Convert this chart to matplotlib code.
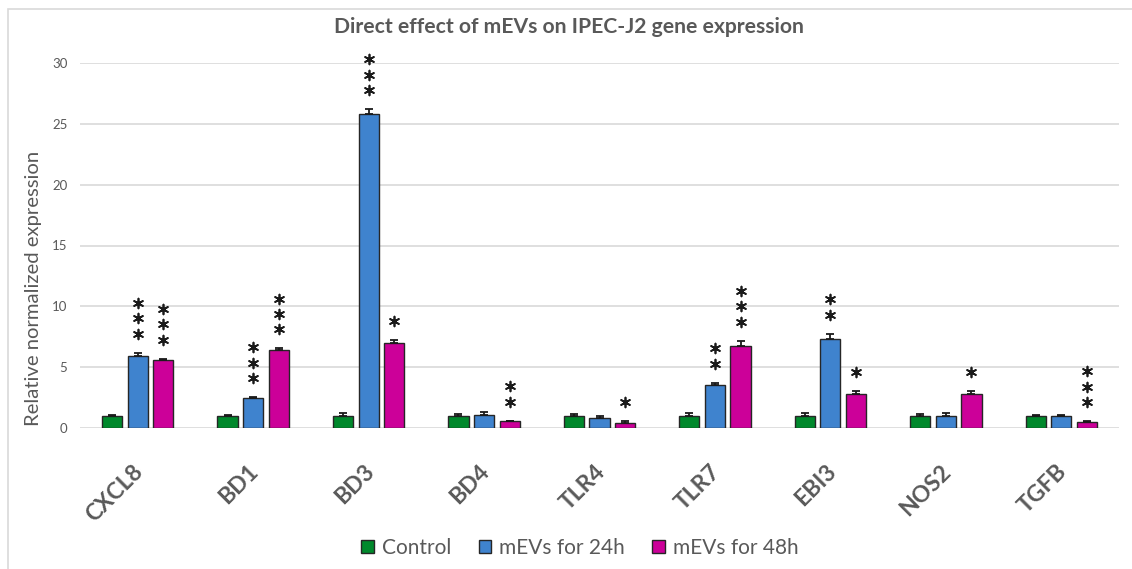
import numpy as np
import matplotlib
matplotlib.use("Agg")
import matplotlib.pyplot as plt
from matplotlib.patches import Patch, Rectangle

# ---- data ----
genes = ["CXCL8", "BD1", "BD3", "BD4", "TLR4", "TLR7", "EBI3", "NOS2", "TGFB"]
series_names = ["Control", "mEVs for 24h", "mEVs for 48h"]
control = [1.0, 1.0, 1.0, 1.0, 1.0, 1.0, 1.0, 1.0, 1.0]
control_err = [0.08, 0.06, 0.25, 0.15, 0.15, 0.25, 0.25, 0.15, 0.06]
mev24 = [5.95, 2.5, 25.8, 1.1, 0.8, 3.55, 7.35, 0.95, 1.0]
mev24_err = [0.25, 0.06, 0.4, 0.25, 0.15, 0.18, 0.4, 0.25, 0.06]
mev48 = [5.55, 6.4, 7.0, 0.55, 0.45, 6.78, 2.78, 2.78, 0.53]
mev48_err = [0.15, 0.15, 0.25, 0.06, 0.15, 0.4, 0.28, 0.28, 0.06]
stars24 = [3, 3, 3, 0, 0, 2, 2, 0, 0]
stars48 = [3, 3, 1, 2, 1, 3, 1, 1, 3]
stars_ctrl = [0] * 9
yticks = [0, 5, 10, 15, 20, 25, 30]

colors = ["#00892C", "#3F83CE", "#CC0099"]
edge = "#262626"
txt = "#595959"

W, H = 1132, 569
fig = plt.figure(figsize=(W / 100, H / 100), dpi=100)
ax = fig.add_axes([80 / W, 1 - 428 / H, 1039 / W, (428 - 63) / H])

x = np.arange(len(genes))
step = 0.222
bw = 0.175
vals = [control, mev24, mev48]
errs = [control_err, mev24_err, mev48_err]
stars = [stars_ctrl, stars24, stars48]
for k in range(3):
    xs = x + (k - 1) * step
    v = np.array(vals[k])
    e = np.array(errs[k])
    ax.bar(xs, v, width=bw, color=colors[k], edgecolor=edge, linewidth=1.0,
           zorder=3, label=series_names[k])
    ax.errorbar(xs, v, yerr=[np.zeros_like(e), e], fmt="none", ecolor="#1a1a1a",
                elinewidth=1.3, capsize=3, capthick=1.3, zorder=4)
    for i in range(len(genes)):
        for s in range(stars[k][i]):
            yy = v[i] + e[i] + 1.55 + s * 1.27
            ax.scatter([xs[i]], [yy], marker=(6, 2, 0), s=50, color="#1a1a1a",
                       linewidths=1.25, zorder=5, clip_on=False)

ax.set_xlim(-0.5, len(genes) - 0.5)
ax.set_ylim(0, 30)
ax.set_yticks(yticks)
ax.yaxis.grid(True, color="#D9D9D9", linewidth=1.2, zorder=0)
ax.set_axisbelow(True)
for sp in ax.spines.values():
    sp.set_visible(False)
ax.tick_params(axis="y", length=0, pad=9, labelsize=9.5, labelcolor=txt)
ax.tick_params(axis="x", length=0)
for t in ax.get_yticklabels():
    t.set_family("Lato")
ax.set_xticks(x)
ax.set_xticklabels([])
for i, g in enumerate(genes):
    ax.annotate(g, xy=(i, 0), xycoords=("data", "axes fraction"),
                xytext=(1.5, -29), textcoords="offset points",
                rotation=45, rotation_mode="anchor", ha="right", va="center",
                fontsize=16.5, fontweight="bold", color=txt, family="Lato")

ax.set_ylabel("Relative normalized expression", fontsize=14.6, color=txt,
              family="Lato")
ax.yaxis.set_label_coords((42 - 80) / 1039, (428 - 288) / 365)

fig.text(0.503, 1 - 27 / H, "Direct effect of mEVs on IPEC-J2 gene expression",
         ha="center", va="center", fontsize=15.2, fontweight="bold",
         color=txt, family="Lato")

handles = [Patch(facecolor=colors[k], edgecolor=edge, linewidth=1.0,
                 label=series_names[k]) for k in range(3)]
leg = fig.legend(handles=handles, loc="center", ncol=3, frameon=False,
                 bbox_to_anchor=(580 / W, 1 - 548 / H),
                 prop={"family": "Lato", "size": 15},
                 handlelength=0.6, handleheight=0.6, handletextpad=0.4,
                 columnspacing=1.3, labelcolor=txt)

# outer chart border
fig.patches.append(Rectangle((8 / W, -0.01), 1.0, 1 - 9 / H + 0.01,
                             transform=fig.transFigure, fill=False,
                             edgecolor="#D9D9D9", linewidth=1.2))

fig.savefig("out.png", dpi=100, facecolor="white")
